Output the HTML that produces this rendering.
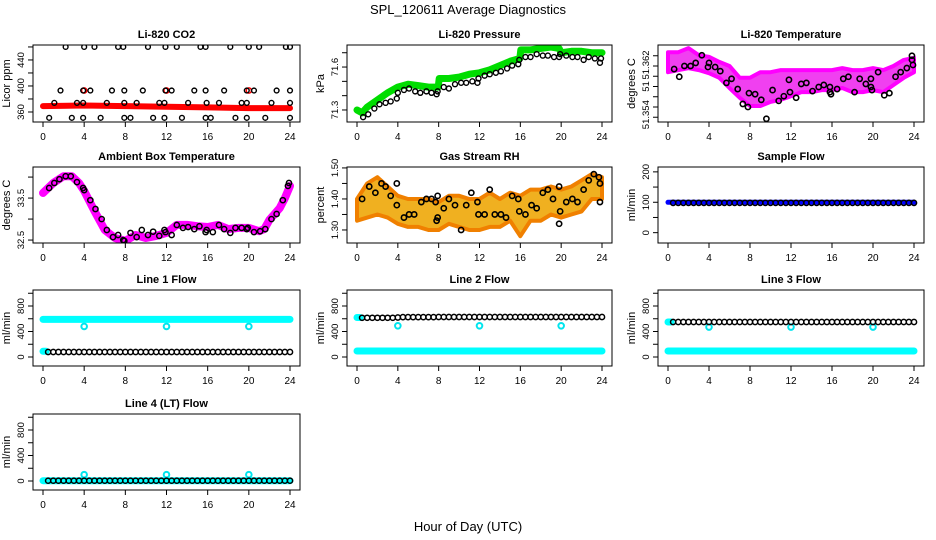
<!DOCTYPE html>
<html><head><meta charset="utf-8"><style>
html,body{margin:0;padding:0;background:#fff;}
svg{display:block;font-family:"Liberation Sans",sans-serif;}
</style></head><body>
<svg id="chart" width="936" height="540" viewBox="0 0 936 540" xmlns="http://www.w3.org/2000/svg">
<text x="468" y="14" text-anchor="middle" font-size="13">SPL_120611  Average Diagnostics</text>
<text x="468" y="531" text-anchor="middle" font-size="13">Hour of Day (UTC)</text>
</svg>
<script>
// ---------- DATA ----------
const xTicks = [0,4,8,12,16,20,24];
// CO2
const co2RedHours = [0,4,8,12,16,20,24];
const co2RedValues = [369,370,369,368,367,366,366];
const co2RedPtHours = [4,12,20];
const co2RedPtValues = [393,393,393];
const co2Hours = [2.2,4,5,7.3,7.8,10.2,11.9,13,15.3,15.8,18.2,20,21,23.6,24,
 1.7,3.9,4.6,6.7,7.9,9.7,11.9,12.5,14.7,15.8,17.6,19.8,20.5,22.7,24,
 1.1,3.3,3.9,6.2,7.9,9.1,11.3,11.8,14.1,15.9,17.1,19.3,19.8,22.2,24,
 0.6,2.8,3.9,5.6,7.9,8.5,10.7,11.8,13.5,15.8,16.3,18.7,19.8,21.6,24];
const co2Values = [460,460,460,460,460,460,460,460,460,460,460,460,460,460,460,
 393,393,393,393,393,393,393,393,393,393,393,393,393,393,393,
 374,374,374,374,374,374,374,374,374,374,374,374,374,374,374,
 351,351,351,351,351,351,351,351,351,351,351,351,351,351,351];
// Pressure
const presGreenHours = [0,0.5,1,2,3,4,5,6,7,7.95,8.05,9,10,11,12,13,14,15,15.95,16.05,17,18,19,19.8,20,21,22,23,24];
const presGreenValues = [71.30,71.28,71.32,71.37,71.42,71.46,71.48,71.47,71.46,71.46,71.52,71.52,71.53,71.55,71.56,71.58,71.61,71.64,71.66,71.72,71.72,71.73,71.74,71.73,71.70,71.71,71.71,71.70,71.70];
const presHours = [0.6,1.1,1.7,2.2,2.8,3.3,3.9,4.0,4.6,5.1,5.7,6.2,6.8,7.3,7.8,7.9,8.5,9.0,9.6,10.2,10.7,11.3,11.8,11.9,12.5,13.0,13.6,14.1,14.7,15.2,15.8,15.9,16.5,17.0,17.6,18.2,18.7,19.3,19.8,19.9,20.5,21.1,21.6,22.2,22.7,23.3,23.8,23.9];
const presValues = [71.25,71.27,71.31,71.34,71.35,71.36,71.38,71.42,71.44,71.45,71.43,71.42,71.43,71.42,71.41,71.43,71.46,71.45,71.48,71.49,71.49,71.50,71.49,71.52,71.54,71.55,71.56,71.57,71.59,71.61,71.62,71.65,71.67,71.67,71.69,71.68,71.68,71.67,71.67,71.69,71.68,71.67,71.67,71.65,71.67,71.66,71.63,71.66];
// Li-820 temperature
const tempBandHours = [0,1,2,3,4,5,6,7,8,9,10,11,12,13,14,15,16,17,18,19,20,21,22,23,24];
const tempBandUpper = [51.3647,51.3647,51.3655,51.3641,51.3638,51.3628,51.3620,51.3597,51.3597,51.3608,51.3608,51.3612,51.3612,51.3612,51.3612,51.3612,51.3612,51.3616,51.3612,51.3612,51.3616,51.3612,51.3620,51.3632,51.3636];
const tempBandLower = [51.3608,51.3612,51.3616,51.3612,51.3606,51.3597,51.3577,51.3558,51.3542,51.3542,51.3550,51.3554,51.3561,51.3569,51.3569,51.3573,51.3573,51.3577,51.3569,51.3569,51.3573,51.3569,51.3583,51.3597,51.3608];
const tempHours = [0.6,1.1,1.6,2.2,2.7,3.3,3.9,4.0,4.6,5.1,5.7,6.2,6.8,7.3,7.8,7.9,8.5,9.1,9.6,10.2,10.8,11.3,11.8,11.9,12.5,13.0,13.5,14.1,14.7,15.2,15.8,15.8,15.9,16.5,17.1,17.6,18.2,18.7,19.3,19.8,19.8,19.9,20.5,21.1,21.6,22.2,22.7,23.3,23.8,23.8,23.9];
const tempValues = [51.3614,51.3599,51.3620,51.3620,51.3626,51.3641,51.3618,51.3626,51.3618,51.3610,51.3587,51.3595,51.3575,51.3546,51.3540,51.3567,51.3565,51.3554,51.3517,51.3573,51.3552,51.3561,51.3593,51.3569,51.3558,51.3585,51.3587,51.3571,51.3579,51.3583,51.3579,51.3569,51.3565,51.3575,51.3595,51.3599,51.3569,51.3595,51.3585,51.3595,51.3579,51.3573,51.3608,51.3563,51.3567,51.3599,51.3608,51.3616,51.3632,51.3640,51.3622];
// Ambient box temperature
const ambHours = [0,1,2,2.8,3.5,4,5,6,7,8,9,10,11,12,13,14,15,16,17,18,19,20,21,21.5,22,23,23.5,24];
const ambValues = [33.62,33.86,34.02,34.02,33.86,33.67,33.19,32.74,32.55,32.48,32.62,32.55,32.60,32.67,32.86,32.86,32.83,32.81,32.86,32.76,32.79,32.79,32.71,32.76,32.98,33.26,33.50,33.79];
const ambPtHours = [0.6,1.1,1.6,2.2,2.7,3.3,3.9,4.0,4.6,5.1,5.7,6.2,6.8,7.3,7.8,7.9,8.5,9.1,9.6,10.2,10.7,11.3,11.8,11.9,12.5,13.0,13.6,14.1,14.7,15.2,15.8,15.9,16.5,17.1,17.6,18.2,18.7,19.3,19.8,19.9,20.5,21.1,21.6,22.2,22.7,23.3,23.8,23.9];
const ambPtValues = [33.74,33.86,33.95,34.02,34.02,33.88,33.74,33.69,33.45,33.24,33.00,32.74,32.57,32.62,32.50,32.48,32.67,32.57,32.74,32.62,32.70,32.60,32.74,32.69,32.62,32.86,32.79,32.81,32.76,32.83,32.69,32.74,32.69,32.86,32.76,32.67,32.79,32.79,32.76,32.79,32.69,32.71,32.76,33.00,33.12,33.45,33.79,33.86];
// Gas stream RH
const rhBandHours = [0,1,2,3,4,5,6,7,8,9,10,11,12,13,14,15,16,17,18,19,20,21,22,23,24];
const rhBandUpper = [1.40,1.45,1.47,1.44,1.41,1.40,1.40,1.40,1.39,1.41,1.41,1.40,1.40,1.42,1.40,1.42,1.41,1.43,1.43,1.44,1.43,1.44,1.46,1.48,1.47];
const rhBandLower = [1.33,1.34,1.35,1.34,1.32,1.31,1.31,1.30,1.30,1.32,1.31,1.30,1.30,1.31,1.31,1.33,1.28,1.33,1.33,1.35,1.34,1.35,1.36,1.40,1.40];
const rhHours = [0.5,1.2,1.8,2.4,2.8,3.3,3.9,3.9,4.6,5.1,5.6,6.3,6.8,7.3,7.7,7.8,7.9,7.9,8.5,9.0,9.6,10.2,10.7,11.2,11.8,11.9,12.5,13.0,13.5,14.1,14.6,15.2,15.8,15.9,16.5,17.1,17.6,18.2,18.7,19.2,19.8,19.8,19.9,20.5,21.1,21.6,22.2,22.7,23.2,23.7,23.8,23.8];
const rhValues = [1.40,1.44,1.42,1.45,1.44,1.41,1.38,1.45,1.34,1.35,1.35,1.39,1.40,1.40,1.39,1.33,1.34,1.41,1.37,1.40,1.38,1.30,1.38,1.42,1.39,1.35,1.35,1.43,1.35,1.35,1.34,1.41,1.40,1.36,1.35,1.38,1.37,1.42,1.43,1.40,1.44,1.32,1.36,1.39,1.40,1.39,1.43,1.46,1.48,1.47,1.45,1.39];
// Flows: black series every 0.5 h from 0.5 to 24
const flowHours = [0.5,1,1.5,2,2.5,3,3.5,4,4.5,5,5.5,6,6.5,7,7.5,8,8.5,9,9.5,10,10.5,11,11.5,12,12.5,13,13.5,14,14.5,15,15.5,16,16.5,17,17.5,18,18.5,19,19.5,20,20.5,21,21.5,22,22.5,23,23.5,24];
const sampleBlack = [98,98,98,98,98,98,98,98,98,98,98,98,98,98,98,98,98,98,98,98,98,98,98,98,98,98,98,98,98,98,98,98,98,98,98,98,98,98,98,98,98,98,98,98,98,98,98,98];
const line1Black = [78,78,78,78,78,78,78,78,78,78,78,78,78,78,78,78,78,78,78,78,78,78,78,78,78,78,78,78,78,78,78,78,78,78,78,78,78,78,78,78,78,78,78,78,78,78,78,78];
const line2Black = [615,615,615,615,615,615,615,620,625,625,625,625,625,625,625,628,628,628,628,628,628,628,628,628,628,628,628,628,628,628,628,628,628,628,628,628,628,628,628,628,628,628,628,628,628,628,628,628];
const line3Black = [549,549,549,549,549,549,549,549,549,549,549,549,549,549,549,549,549,549,549,549,549,549,549,549,549,549,549,549,549,549,549,549,549,549,549,549,549,549,549,549,549,549,549,549,549,549,549,549];
const line4Black = [5,5,5,5,5,5,5,5,5,5,5,5,5,5,5,5,5,5,5,5,5,5,5,5,5,5,5,5,5,5,5,5,5,5,5,5,5,5,5,5,5,5,5,5,5,5,5,5];
const bandHours = [0,24];
const sampleBlue = [100,100];
const line1CyanHi = [590,590];
const line2CyanLo = [95,95];
const line3CyanLo = [95,95];
const line4Cyan = [5,5];
const dipHours = [4,12,20];
const line1Dips = [480,480,480];
const line2Dips = [490,490,490];
const line3Dips = [470,470,470];
const line4Dips = [100,100,100];
const startHours = [0,0.3];
const line1CyanStart = [90,90];
const line2CyanStart = [620,620];
const line3CyanStart = [549,549];

// ---------- DRAW ----------
const NS = 'http://www.w3.org/2000/svg';
const svg = document.getElementById('chart');
function mk(tag, attrs, parent){ const e=document.createElementNS(NS,tag); for(const k in attrs) e.setAttribute(k,attrs[k]); (parent||svg).appendChild(e); return e; }

const cols = [[33,300],[347,612],[658,924]];
const rows = [[45,122],[167,243],[290,366],[414,490]];

function makePanel(name, c, r, ymin, ymax, yTicks, yLabels, title, ylab){
  const [x0,x1]=cols[c], [y0,y1]=rows[r];
  const g = mk('g',{});
  
  
  const sx = h => (x0+10) + h/24*((x1-10)-(x0+10));
  const sy = v => y1 - (v-ymin)/(ymax-ymin)*(y1-y0);
  const clipId = 'clip-'+name;
  const cp = mk('clipPath',{id:clipId},g); mk('rect',{x:x0,y:y0,width:x1-x0,height:y1-y0},cp);
  const plot = mk('g',{'clip-path':'url(#'+clipId+')'},g);
  
  
  const t = mk('text',{x:(x0+x1)/2,y:y0-7,'text-anchor':'middle','font-size':11,'font-weight':'bold'},g);
  t.textContent = title;
  
  
  const b = mk('rect',{x:x0,y:y0,width:x1-x0,height:y1-y0,fill:'none',stroke:'#000','stroke-width':1},g);
  
  
  const xa = mk('g',{stroke:'#000'},g);
  
  
  mk('line',{x1:sx(0),x2:sx(24),y1:y1,y2:y1},xa);
  xTicks.forEach(h=>{
    mk('line',{x1:sx(h),x2:sx(h),y1:y1,y2:y1+5},xa);
    const tl = mk('text',{x:sx(h),y:y1+18,'text-anchor':'middle','font-size':10,stroke:'none',fill:'#000'},xa);
    tl.textContent = h;
    
    
  });
  const ya = mk('g',{stroke:'#000'},g);
  
  
  mk('line',{x1:x0,x2:x0,y1:sy(yTicks[0]),y2:sy(yTicks[yTicks.length-1])},ya);
  yTicks.forEach(v=>mk('line',{x1:x0-5,x2:x0,y1:sy(v),y2:sy(v)},ya));
  yLabels.forEach(([v,s])=>{
    const yy=sy(v), xx=x0-9;
    const tl = mk('text',{x:xx,y:yy,'text-anchor':'middle','font-size':9.5,stroke:'none',fill:'#000',transform:`rotate(-90 ${xx} ${yy})`},ya);
    tl.textContent = s;
    
    
  });
  const yl = mk('text',{x:x0-23,y:(y0+y1)/2,'text-anchor':'middle','font-size':11,transform:`rotate(-90 ${x0-23} ${(y0+y1)/2})`},g);
  yl.textContent = ylab;
  
  
  return {sx,sy,plot};
}
function line(p, hs, vs, color, w, name){
  const d = hs.map((h,i)=>(i?'L':'M')+p.sx(h).toFixed(1)+' '+p.sy(vs[i]).toFixed(1)).join(' ');
  const e = mk('path',{d,fill:'none',stroke:color,'stroke-width':w,'stroke-linejoin':'round','stroke-linecap':'round'},p.plot);
  
  
}
function band(p, hs, up, lo, fill, stroke, name){
  const pts = hs.map((h,i)=>p.sx(h).toFixed(1)+','+p.sy(up[i]).toFixed(1))
    .concat(hs.slice().reverse().map((h,j)=>{const i=hs.length-1-j; return p.sx(h).toFixed(1)+','+p.sy(lo[i]).toFixed(1);}));
  const e = mk('polygon',{points:pts.join(' '),fill,stroke,'stroke-width':4,'stroke-linejoin':'round'},p.plot);
  
  
}
function pts(p, hs, vs, color, r, w, name){
  hs.forEach((h,i)=>{
    const c = mk('circle',{cx:p.sx(h),cy:p.sy(vs[i]),r,fill:'none',stroke:color,'stroke-width':w},p.plot);
    
    
  });
}

let p = makePanel('co2-panel',0,0,344.6,463,[360,380,400,420,440,460],[[360,'360'],[400,'400'],[440,'440']],'Li-820 CO2','Licor ppm');
line(p,co2RedHours,co2RedValues,'#ff0000',6,'co2-red-series');
pts(p,co2RedPtHours,co2RedPtValues,'#ff0000',2.6,1.5,'co2-red-point');
pts(p,co2Hours,co2Values,'#000',2.4,1.4,'co2-point');

p = makePanel('pressure-panel',1,0,71.216,71.754,[71.3,71.4,71.5,71.6,71.7],[[71.3,'71.3'],[71.6,'71.6']],'Li-820 Pressure','kPa');
line(p,presGreenHours,presGreenValues,'#00dd00',7,'pressure-green-series');
pts(p,presHours,presValues,'#000',2.5,1.4,'pressure-point');

p = makePanel('li820-temp-panel',2,0,51.35107,51.3661,[51.352,51.354,51.356,51.358,51.360,51.362,51.364],[[51.3525,'51.354'],[51.3580,'51'],[51.3622,'51.362']],'Li-820 Temperature','degrees C');
band(p,tempBandHours,tempBandUpper,tempBandLower,'#f040f0','#ff00ff','li820-temp-magenta-band');
pts(p,tempHours,tempValues,'#000',2.6,1.6,'li820-temp-point');

p = makePanel('ambient-temp-panel',0,1,32.43,34.24,[32.5,33,33.5,34],[[32.5,'32.5'],[33.5,'33.5']],'Ambient Box Temperature','degrees C');
line(p,ambHours,ambValues,'#ff00ff',8,'ambient-magenta-series');
pts(p,ambPtHours,ambPtValues,'#000',2.6,1.5,'ambient-point');

p = makePanel('rh-panel',1,1,1.258,1.503,[1.30,1.35,1.40,1.45,1.50],[[1.30,'1.30'],[1.40,'1.40'],[1.50,'1.50']],'Gas Stream RH','percent');
band(p,rhBandHours,rhBandUpper,rhBandLower,'#f0b020','#f08000','rh-orange-band');
pts(p,rhHours,rhValues,'#000',2.6,1.6,'rh-point');

p = makePanel('sample-flow-panel',2,1,-34,216,[0,50,100,150,200],[[0,'0'],[100,'100'],[200,'200']],'Sample Flow','ml/min');
line(p,bandHours,sampleBlue,'#0000ff',5,'sample-blue-series');
pts(p,flowHours,sampleBlack,'#000',2.6,1.5,'sample-point');

const fT=[0,200,400,600,800,1000], fL=[[0,'0'],[400,'400'],[800,'800']];
p = makePanel('line1-flow-panel',0,2,-141,1051,fT,fL,'Line 1 Flow','ml/min');
line(p,bandHours,line1CyanHi,'#00ffff',7,'line1-cyan-series');
line(p,startHours,line1CyanStart,'#00ffff',7,'line1-cyan-start');
pts(p,dipHours,line1Dips,'#00e5ee',2.8,2,'line1-cyan-dip');
pts(p,flowHours,line1Black,'#000',2.6,1.5,'line1-point');

p = makePanel('line2-flow-panel',1,2,-141,1051,fT,fL,'Line 2 Flow','ml/min');
line(p,bandHours,line2CyanLo,'#00ffff',7,'line2-cyan-series');
line(p,startHours,line2CyanStart,'#00ffff',7,'line2-cyan-start');
pts(p,dipHours,line2Dips,'#00e5ee',2.8,2,'line2-cyan-dip');
pts(p,flowHours,line2Black,'#000',2.6,1.5,'line2-point');

p = makePanel('line3-flow-panel',2,2,-141,1051,fT,fL,'Line 3 Flow','ml/min');
line(p,bandHours,line3CyanLo,'#00ffff',7,'line3-cyan-series');
line(p,startHours,line3CyanStart,'#00ffff',7,'line3-cyan-start');
pts(p,dipHours,line3Dips,'#00e5ee',2.8,2,'line3-cyan-dip');
pts(p,flowHours,line3Black,'#000',2.6,1.5,'line3-point');

p = makePanel('line4-flow-panel',0,3,-141,1051,fT,fL,'Line 4 (LT) Flow','ml/min');
line(p,bandHours,line4Cyan,'#00ffff',7,'line4-cyan-series');
pts(p,dipHours,line4Dips,'#00e5ee',2.8,2,'line4-cyan-dip');
pts(p,flowHours,line4Black,'#000',2.6,1.5,'line4-point');
</script>
</body></html>
